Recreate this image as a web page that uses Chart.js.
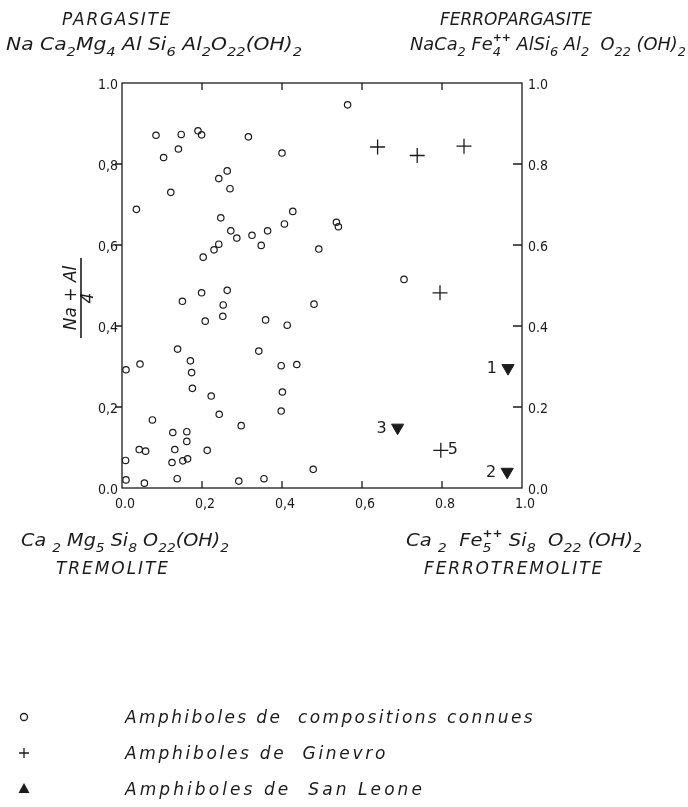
<!DOCTYPE html>
<html>
<head>
<meta charset="utf-8">
<script src="https://cdn.jsdelivr.net/npm/chart.js@4.4.1/dist/chart.umd.min.js"></script>
<style>
  html, body { margin: 0; padding: 0; background: #ffffff; }
  canvas { display: block; }
</style>
</head>
<body>
<canvas id="amphChart" width="688" height="807"></canvas>
<script>
// Amphiboles de compositions connues (open circles)
const compX = [0.036, 0.085, 0.104, 0.122, 0.141, 0.148, 0.190, 0.199, 0.316, 0.400,
    0.242, 0.263, 0.270, 0.247, 0.272, 0.287, 0.325, 0.364, 0.348, 0.406,
    0.427, 0.242, 0.230, 0.203, 0.564, 0.536, 0.541, 0.492, 0.705,
    0.151, 0.199, 0.263, 0.253, 0.252, 0.208, 0.359, 0.413, 0.139, 0.342,
    0.010, 0.045, 0.171, 0.174, 0.176, 0.398, 0.437, 0.401, 0.398, 0.223,
    0.243, 0.298, 0.076, 0.127, 0.162, 0.162, 0.043, 0.059, 0.132, 0.213,
    0.009, 0.125, 0.152, 0.164, 0.010, 0.056, 0.138, 0.292, 0.355,
    0.480, 0.478];
const compY = [0.688, 0.871, 0.816, 0.730, 0.837, 0.873, 0.882, 0.872, 0.867, 0.827,
    0.764, 0.783, 0.739, 0.667, 0.635, 0.617, 0.624, 0.635, 0.599, 0.652,
    0.683, 0.602, 0.588, 0.570, 0.946, 0.656, 0.645, 0.590, 0.515,
    0.461, 0.482, 0.488, 0.452, 0.424, 0.412, 0.415, 0.402, 0.343, 0.338,
    0.292, 0.306, 0.314, 0.285, 0.246, 0.302, 0.305, 0.237, 0.190, 0.227,
    0.182, 0.154, 0.168, 0.137, 0.139, 0.115, 0.095, 0.091, 0.095, 0.093,
    0.068, 0.063, 0.067, 0.072, 0.020, 0.012, 0.023, 0.017, 0.023,
    0.454, 0.046];

// Amphiboles de Ginevro (+)
const ginX = [0.639, 0.738, 0.855, 0.795, 0.797];
const ginY = [0.842, 0.821, 0.844, 0.482, 0.093];
const ginTags = ['', '', '', '', '5'];

// Amphiboles de San Leone (filled triangles)
const slX = [0.965, 0.963, 0.689];
const slY = [0.296, 0.040, 0.149];
const slTags = ['1', '2', '3'];

const tickValues = [0, 0.2, 0.4, 0.6, 0.8, 1.0];
const xTickLabels = ['0.0', '0,2', '0,4', '0,6', '0.8', '1.0'];
const yLeftLabels = ['0.0', '0,2', '0,4', '0,6', '0,8', '1.0'];
const yRightLabels = ['0.0', '0.2', '0.4', '0.6', '0.8', '1.0'];

const legendLabels = ['Amphiboles de  compositions connues', 'Amphiboles de  Ginevro', 'Amphiboles de  San Leone'];

const INK = '#1b1b1b';
const FONT = '"DejaVu Sans", sans-serif';
const TICKFONT = '14px "DejaVu Sans Condensed", "DejaVu Sans", sans-serif';

// text with spacing stretched to a given width
function spaced(ctx, text, x, y, width) {
    ctx.letterSpacing = '0px';
    const w0 = ctx.measureText(text).width;
    ctx.letterSpacing = ((width - w0) / text.length) + 'px';
    ctx.textAlign = 'left';
    ctx.fillText(text, x, y);
    ctx.letterSpacing = '0px';
}

// chemical formula: [text, kind] with kind '' | 'sub' | 'supsub'
function drawFormula(ctx, parts, x, y, size, width) {
    const main = `italic ${size}px ${FONT}`;
    const small = `italic ${Math.round(size * 0.72)}px ${FONT}`;
    const tiny = `italic bold ${Math.round(size * 0.62)}px ${FONT}`;
    let w = 0;
    const adv = parts.map(([t, k]) => {
        ctx.font = k ? small : main;
        let a = ctx.measureText(t).width;
        if (k === 'supsub') {
            ctx.font = tiny;
            a = Math.max(a, ctx.measureText('++').width);
        }
        w += a;
        return a;
    });
    ctx.save();
    ctx.translate(x, y);
    ctx.scale(width / w, 1);
    ctx.textAlign = 'left';
    ctx.textBaseline = 'alphabetic';
    let cx = 0;
    parts.forEach(([t, k], i) => {
        ctx.font = k ? small : main;
        ctx.fillText(t, cx, k ? size * 0.34 : 0);
        if (k === 'supsub') {
            ctx.font = tiny;
            ctx.fillText('++', cx, -size * 0.5);
        }
        cx += adv[i];
    });
    ctx.restore();
}

const framePlugin = {
    id: 'frame',
    afterDatasetsDraw(chart) {
        const ctx = chart.ctx;
        const area = chart.chartArea;
        const xs = chart.scales.x, ys = chart.scales.y;
        ctx.save();
        ctx.strokeStyle = INK;
        ctx.fillStyle = INK;
        ctx.lineWidth = 1.3;
        ctx.strokeRect(area.left, area.top, area.right - area.left, area.bottom - area.top);

        // tick marks: left outward, others inward
        ctx.beginPath();
        tickValues.slice(1, -1).forEach(v => {
            const py = ys.getPixelForValue(v);
            const px = xs.getPixelForValue(v);
            ctx.moveTo(area.left - 7, py); ctx.lineTo(area.left, py);
            ctx.moveTo(area.right - 9, py); ctx.lineTo(area.right, py);
            ctx.moveTo(px, area.bottom); ctx.lineTo(px, area.bottom - 7);
            ctx.moveTo(px, area.top); ctx.lineTo(px, area.top + 7);
        });
        ctx.stroke();

        // tick labels
        ctx.font = TICKFONT;
        ctx.textBaseline = 'middle';
        tickValues.forEach((v, i) => {
            const py = ys.getPixelForValue(v);
            const px = xs.getPixelForValue(v);
            ctx.textAlign = 'right';
            ctx.fillText(yLeftLabels[i], area.left - 4, py + 2);
            ctx.textAlign = 'left';
            ctx.fillText(yRightLabels[i], area.right + 6, py + 2);
            ctx.textAlign = 'center';
            ctx.fillText(xTickLabels[i], px + 3, area.bottom + 16);
        });

        // y axis title as a fraction
        ctx.font = `italic 17px ${FONT}`;
        ctx.save();
        ctx.translate(72, 298);
        ctx.rotate(-Math.PI / 2);
        ctx.textAlign = 'center';
        ctx.fillText('Na + Al', 0, 0);
        ctx.restore();
        ctx.beginPath();
        ctx.lineWidth = 1.6;
        ctx.moveTo(81, 258); ctx.lineTo(81, 338);
        ctx.stroke();
        ctx.save();
        ctx.translate(89, 298);
        ctx.rotate(-Math.PI / 2);
        ctx.textAlign = 'center';
        ctx.fillText('4', 0, 0);
        ctx.restore();

        // point tags
        ctx.font = `16px ${FONT}`;
        ctx.textBaseline = 'middle';
        const gm = chart.getDatasetMeta(1).data;
        ginTags.forEach((t, i) => {
            if (!t) return;
            ctx.textAlign = 'left';
            ctx.fillText(t, gm[i].x + 7, gm[i].y);
        });
        const sm = chart.getDatasetMeta(2).data;
        slTags.forEach((t, i) => {
            ctx.textAlign = 'right';
            ctx.fillText(t, sm[i].x - 11, sm[i].y + 1);
        });

        // end-member names and formulas
        ctx.textBaseline = 'alphabetic';
        ctx.font = `italic 17px ${FONT}`;
        spaced(ctx, 'PARGASITE', 62, 25, 110);
        spaced(ctx, 'FERROPARGASITE', 440, 25, 152);
        spaced(ctx, 'TREMOLITE', 56, 574, 114);
        spaced(ctx, 'FERROTREMOLITE', 424, 574, 180);

        drawFormula(ctx, [['Na Ca', ''], ['2', 'sub'], ['Mg', ''], ['4', 'sub'], [' Al Si', ''], ['6', 'sub'],
            [' Al', ''], ['2', 'sub'], ['O', ''], ['22', 'sub'], ['(OH)', ''], ['2', 'sub']], 6, 50, 18, 296);
        drawFormula(ctx, [['NaCa', ''], ['2', 'sub'], [' Fe', ''], ['4', 'supsub'], [' AlSi', ''], ['6', 'sub'],
            [' Al', ''], ['2', 'sub'], ['  O', ''], ['22', 'sub'], [' (OH)', ''], ['2', 'sub']], 410, 50, 18, 276);
        drawFormula(ctx, [['Ca ', ''], ['2', 'sub'], [' Mg', ''], ['5', 'sub'], [' Si', ''], ['8', 'sub'],
            [' O', ''], ['22', 'sub'], ['(OH)', ''], ['2', 'sub']], 21, 546, 18, 208);
        drawFormula(ctx, [['Ca ', ''], ['2', 'sub'], ['  Fe', ''], ['5', 'supsub'], [' Si', ''], ['8', 'sub'],
            ['  O', ''], ['22', 'sub'], [' (OH)', ''], ['2', 'sub']], 406, 546, 18, 236);

        // legend
        const rows = [717, 753, 789];
        const widths = [410, 263, 300];
        legendLabels.forEach((t, i) => {
            ctx.font = `italic 17px ${FONT}`;
            spaced(ctx, t, 125, rows[i] + 6, widths[i]);
        });
        ctx.lineWidth = 1.3;
        ctx.beginPath();
        ctx.arc(24, rows[0], 3.5, 0, Math.PI * 2);
        ctx.stroke();
        ctx.beginPath();
        ctx.moveTo(19, rows[1]); ctx.lineTo(29, rows[1]);
        ctx.moveTo(24, rows[1] - 5); ctx.lineTo(24, rows[1] + 5);
        ctx.stroke();
        ctx.beginPath();
        ctx.moveTo(24, rows[2] - 6); ctx.lineTo(29.5, rows[2] + 4); ctx.lineTo(18.5, rows[2] + 4);
        ctx.closePath();
        ctx.fill();
        ctx.restore();
    }
};

const ctx = document.getElementById('amphChart').getContext('2d');
const amphChart = new Chart(ctx, {
    type: 'scatter',
    data: {
        datasets: [{
            label: legendLabels[0],
            data: compX.map((x, i) => ({ x: x, y: compY[i] })),
            pointStyle: 'circle',
            pointRadius: 3.2,
            borderColor: INK,
            backgroundColor: 'rgba(0,0,0,0)',
            borderWidth: 1.2,
            clip: false,
        }, {
            label: legendLabels[1],
            data: ginX.map((x, i) => ({ x: x, y: ginY[i] })),
            pointStyle: 'cross',
            pointRadius: 7.5,
            borderColor: INK,
            borderWidth: 1.3,
            clip: false,
        }, {
            label: legendLabels[2],
            data: slX.map((x, i) => ({ x: x, y: slY[i] })),
            pointStyle: 'triangle',
            rotation: 180,
            pointRadius: 7,
            borderColor: INK,
            backgroundColor: INK,
            borderWidth: 1,
            clip: false,
        }],
    },
    options: {
        responsive: false,
        animation: false,
        layout: {
            padding: { left: 122, right: 166, top: 83, bottom: 319 },
        },
        scales: {
            x: { type: 'linear', min: 0, max: 1, display: false },
            y: { type: 'linear', min: 0, max: 1, display: false },
        },
        plugins: {
            legend: { display: false },
            tooltip: { enabled: false },
        },
    },
    plugins: [framePlugin],
});
</script>
</body>
</html>
